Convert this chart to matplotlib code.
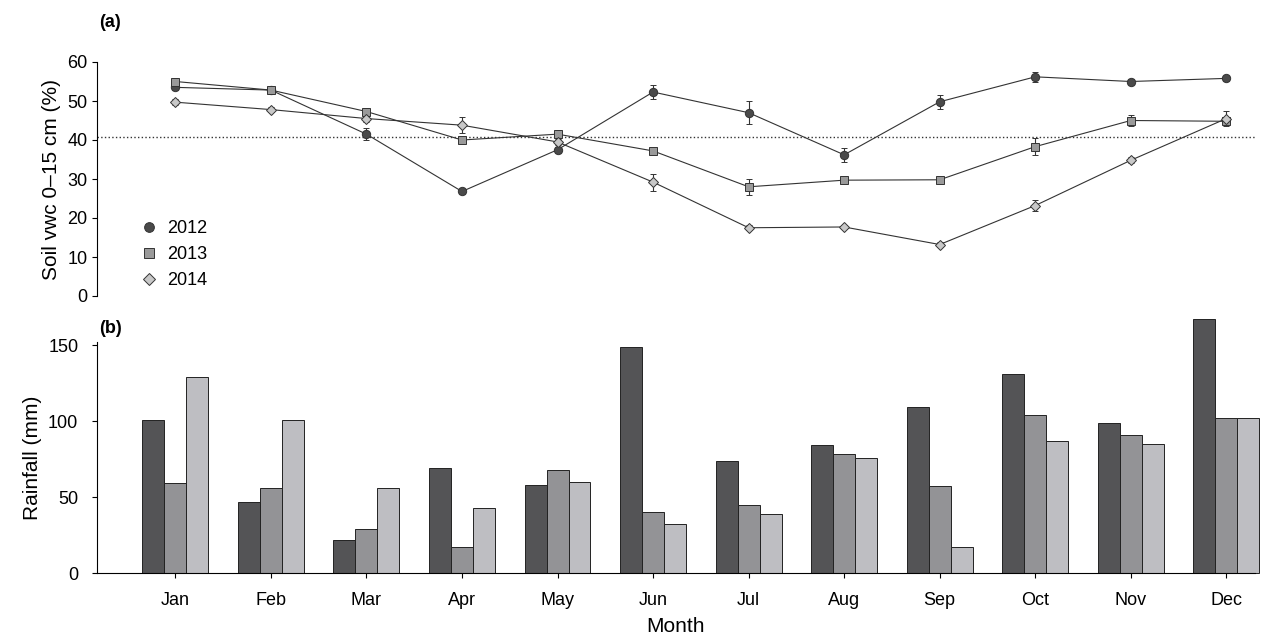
import numpy as np
import matplotlib.pyplot as plt
from matplotlib.lines import Line2D

months = ["Jan", "Feb", "Mar", "Apr", "May", "Jun", "Jul", "Aug", "Sep", "Oct", "Nov", "Dec"]
years = ["2012", "2013", "2014"]

vwc2012 = [53.5, 52.8, 41.5, 26.8, 37.5, 52.3, 47.0, 36.2, 49.8, 56.2, 55.0, 55.8]
vwc2013 = [55.0, 52.8, 47.3, 40.0, 41.5, 37.2, 28.0, 29.7, 29.8, 38.3, 45.0, 44.8]
vwc2014 = [49.7, 47.8, 45.5, 43.8, 39.5, 29.2, 17.5, 17.7, 13.2, 23.2, 34.8, 45.5]
err2012 = [0.8, 0.6, 1.5, 0.6, 0.8, 1.8, 3.0, 1.8, 1.8, 1.3, 0.6, 0.6]
err2013 = [0.8, 0.6, 1.0, 0.6, 1.0, 0.8, 2.0, 0.8, 0.8, 2.2, 1.5, 0.6]
err2014 = [0.8, 0.6, 1.0, 2.0, 0.8, 2.2, 0.6, 0.6, 0.6, 1.5, 0.8, 2.0]
vwc_mean = 40.8

rain2012 = [101, 47, 22, 69, 58, 149, 74, 84, 109, 131, 99, 167]
rain2013 = [59, 56, 29, 17, 68, 40, 45, 78, 57, 104, 91, 102]
rain2014 = [129, 101, 56, 43, 60, 32, 39, 76, 17, 87, 85, 102]

plt.rcParams['font.family'] = ['Liberation Sans', 'DejaVu Sans']
W, H = 1261, 644
x = np.arange(len(months))
fig = plt.figure(figsize=(W / 100, H / 100), dpi=100)
ax1 = fig.add_axes([97 / W, (H - 296) / H, (1255 - 97) / W, (296 - 62) / H])
ax2 = fig.add_axes([97 / W, (H - 573) / H, (1255 - 97) / W, (573 - 342) / H])

styles = [("o", "#4a4a4a", 6), ("s", "#9a9a9a", 6), ("D", "#c8c8c8", 5.5)]
handles = []
for vals, errs, (mk, col, ms), yr in zip([vwc2012, vwc2013, vwc2014], [err2012, err2013, err2014], styles, years):
  ax1.errorbar(x, vals, yerr=errs, color="#333333", lw=0.8, marker=mk, ms=ms,
               mfc=col, mec="#333333", mew=0.7, capsize=2.5, elinewidth=0.8)
  handles.append(Line2D([], [], ls="none", marker=mk, ms=ms + 1, mfc=col, mec="#333333", mew=0.7, label=yr))
ax1.axhline(vwc_mean, color="#333333", ls=":", lw=1)
ax1.set_xlim(-0.82, 11.3)
ax1.set_ylim(0, 60)
ax1.set_yticks(range(0, 61, 10))
ax1.set_xticks([])
for s in ["top", "right", "bottom"]:
  ax1.spines[s].set_visible(False)
ax1.set_ylabel("Soil vwc 0–15 cm (%)", fontsize=15)
ax1.tick_params(labelsize=13)
ax1.text(-0.8, 69, "(a)", fontsize=13, fontweight="bold")
ax1.legend(handles=handles, loc="lower left", bbox_to_anchor=(0.025, -0.04), frameon=False, fontsize=13,
           handlelength=0.8, handletextpad=0.6, labelspacing=0.5)

w = 0.23
for i, (vals, col) in enumerate(zip([rain2012, rain2013, rain2014], ["#545456", "#939396", "#bebec2"])):
  ax2.bar(x + (i - 1) * w, vals, w, color=col, edgecolor="#222222", lw=0.7, clip_on=False)
ax2.set_xlim(-0.82, 11.3)
ax2.set_ylim(0, 152)
ax2.set_yticks([0, 50, 100, 150])
ax2.set_xticks(x)
ax2.set_xticklabels(months)
for s in ["top", "right"]:
  ax2.spines[s].set_visible(False)
ax2.set_ylabel("Rainfall (mm)", fontsize=15)
ax2.set_xlabel("Month", fontsize=15, labelpad=6)
ax2.tick_params(labelsize=13, pad=10)
ax2.text(-0.8, 158, "(b)", fontsize=13, fontweight="bold")

fig.savefig("out.png", dpi=100)
